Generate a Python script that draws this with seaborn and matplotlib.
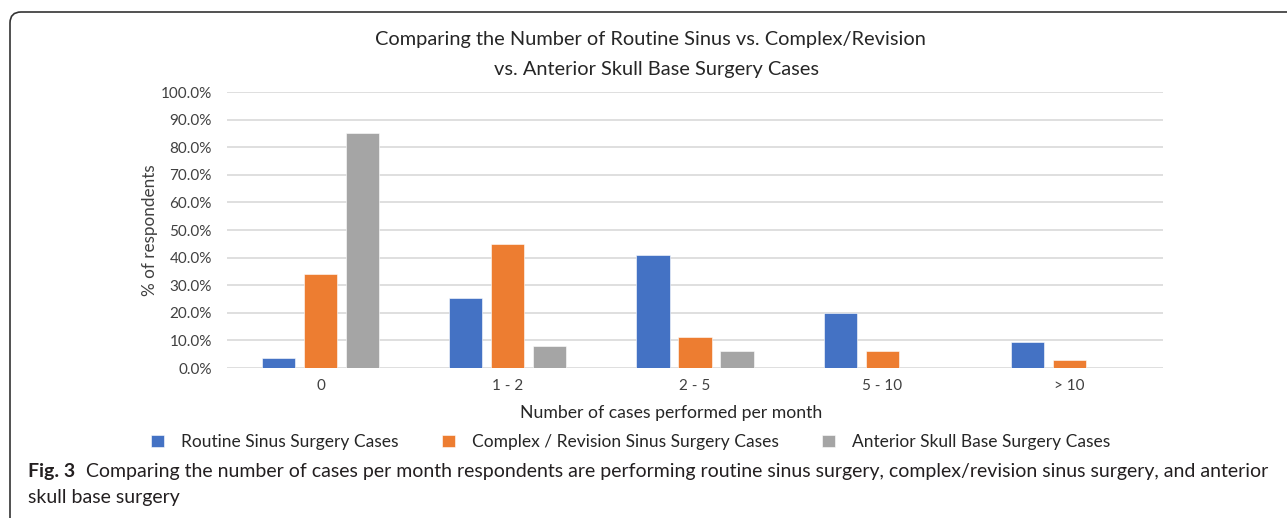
import numpy as np
import pandas as pd
import seaborn as sns
import matplotlib.pyplot as plt
from matplotlib.patches import FancyBboxPatch
from matplotlib.transforms import IdentityTransform

# data (% of respondents)
categories = ['0', '1 - 2', '2 - 5', '5 - 10', '> 10']
series_names = ['Routine Sinus Surgery Cases',
                'Complex / Revision Sinus Surgery Cases',
                'Anterior Skull Base Surgery Cases']
routine = [3.8, 25.2, 40.9, 20.1, 9.3]
complex_rev = [34.2, 44.9, 11.1, 6.0, 3.0]
skull_base = [85.3, 8.1, 6.0, 0.0, 0.0]
yticks = [0, 10, 20, 30, 40, 50, 60, 70, 80, 90, 100]

colors = ['#4472C4', '#ED7D31', '#A5A5A5']

df = pd.DataFrame({
    'cases': categories * 3,
    'pct': routine + complex_rev + skull_base,
    'series': [series_names[0]] * 5 + [series_names[1]] * 5 + [series_names[2]] * 5,
})

sns.set_theme(style='white')
plt.rcParams['font.family'] = ['Lato', 'DejaVu Sans']

W, H = 1287, 518
fig = plt.figure(figsize=(W / 100, H / 100), dpi=100)
ax = fig.add_axes([227 / W, 1 - 368 / H, (1163 - 227) / W, (368 - 92) / H])

sns.barplot(data=df, x='cases', y='pct', hue='series', palette=colors,
            width=0.673, gap=0.21, ax=ax, legend=True, saturation=1,
            edgecolor='white', linewidth=0.4)

ax.set_ylim(0, 100)
ax.set_yticks(yticks)
ax.set_yticklabels([f'{v:.1f}%' for v in yticks], fontsize=11, color='#404040')
ax.tick_params(axis='x', labelsize=11, colors='#404040', length=0, pad=8)
ax.tick_params(axis='y', length=0, pad=11)
ax.yaxis.grid(True, color='#D9D9D9', linewidth=1.2)
ax.set_axisbelow(True)
for s in ax.spines.values():
    s.set_visible(False)
ax.set_xlabel('')
ax.set_ylabel('% of respondents', fontsize=12.3, color='#404040', labelpad=2)

handles, labels = ax.get_legend_handles_labels()
ax.get_legend().remove()
fig.legend(handles, labels, loc='center', bbox_to_anchor=(631 / W, 1 - 442 / H),
           ncol=3, frameon=False, fontsize=12.5, handlelength=0.72, handleheight=0.72,
           columnspacing=2.5, handletextpad=1.0, labelcolor='#262626')

fig.text(650 / W, 1 - 40 / H, 'Comparing the Number of Routine Sinus vs. Complex/Revision',
         ha='center', va='center', fontsize=14.4, color='#262626')
fig.text(656 / W, 1 - 70 / H, 'vs. Anterior Skull Base Surgery Cases',
         ha='center', va='center', fontsize=14.4, color='#262626')
fig.text(671 / W, 1 - 413 / H, 'Number of cases performed per month',
         ha='center', va='center', fontsize=12.7, color='#262626')

# caption
fig.text(28 / W, 1 - 471 / H, 'Fig. 3', ha='left', va='center', fontsize=14,
         fontweight='bold', color='#231F20')
fig.text(86 / W, 1 - 471 / H,
         'Comparing the number of cases per month respondents are performing routine sinus surgery, '
         'complex/revision sinus surgery, and anterior',
         ha='left', va='center', fontsize=14, color='#231F20')
fig.text(28 / W, 1 - 497 / H, 'skull base surgery', ha='left', va='center',
         fontsize=14, color='#231F20')

# rounded frame (pixel coordinates)
frame = FancyBboxPatch((10, -40), W + 40, H - 12 + 40,
                       boxstyle='round,pad=0,rounding_size=11',
                       transform=IdentityTransform(), fill=False,
                       edgecolor='#333333', linewidth=1.2)
fig.patches.append(frame)

fig.savefig('out.png', dpi=100)
